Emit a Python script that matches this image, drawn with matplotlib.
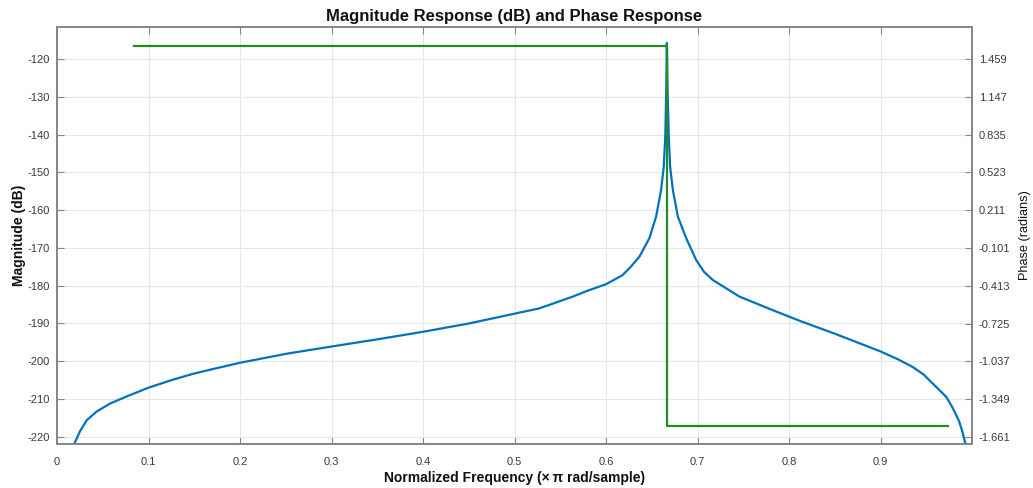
import numpy as np
import matplotlib.pyplot as plt

# magnitude response (normalized freq, dB)
mag_freq = [0.015, 0.0186, 0.025, 0.0325, 0.0434, 0.058, 0.0763, 0.1, 0.125,
            0.149, 0.175, 0.2, 0.251, 0.3, 0.35, 0.4, 0.45, 0.5, 0.527, 0.5635,
            0.58, 0.6, 0.618, 0.627, 0.6365, 0.6474, 0.6547, 0.6602, 0.6631,
            0.6648, 0.6658, 0.6665, 0.6672, 0.6685, 0.670, 0.673, 0.6785,
            0.6876, 0.6985, 0.707, 0.7168, 0.746, 0.7825, 0.8117, 0.85, 0.9,
            0.92, 0.935, 0.947, 0.957, 0.965, 0.972, 0.978, 0.982, 0.986,
            0.989, 0.993, 0.996]
mag_db = [-228, -222, -218.6, -215.6, -213.3, -211.2, -209.3, -207, -205,
          -203.3, -201.8, -200.4, -198, -196.1, -194.2, -192.2, -190, -187.4,
          -186, -182.9, -181.3, -179.6, -177.2, -175, -172.3, -167.4, -161.7,
          -154.6, -148.4, -140, -128, -115.7, -128, -140, -148.4, -154.6,
          -161.7, -167.4, -173.2, -176.3, -178.5, -182.9, -186.5, -189.3,
          -192.7, -197.4, -199.6, -201.5, -203.5, -205.9, -207.8, -209.5, -212,
          -213.9, -216, -218.3, -222, -228]

# phase response (radians)
phase_freq = [0.084, 0.6665, 0.6665, 0.974]
phase_rad = [1.5708, 1.5708, -1.5708, -1.5708]

xticks = [0, 0.1, 0.2, 0.3, 0.4, 0.5, 0.6, 0.7, 0.8, 0.9]
xtick_labels = ['0', '0.1', '0.2', '0.3', '0.4', '0.5', '0.6', '0.7', '0.8', '0.9']
mag_ticks = [-120, -130, -140, -150, -160, -170, -180, -190, -200, -210, -220]
phase_ticks = [1.459, 1.147, 0.835, 0.523, 0.211, -0.101, -0.413, -0.725,
               -1.037, -1.349, -1.661]

plt.rcParams['font.family'] = ['Liberation Sans', 'DejaVu Sans']
plt.rcParams['axes.unicode_minus'] = False

fig = plt.figure(figsize=(10.33, 4.88), dpi=100)
ax = fig.add_axes([0.0552, 0.0895, 0.8858, 0.8558])
ax2 = ax.twinx()

axis_col = '#858585'
text_col = '#3a3a3a'

ax.plot(mag_freq, mag_db, color='#0072BD', lw=1.6, zorder=3)
ax2.plot(phase_freq, phase_rad, color='#228B22', lw=1.6, zorder=3)

ax.set_xlim(0, 1.0)
ax.set_ylim(-222, -111.4)
ax2.set_ylim(-1.723, 1.727)

ax.set_xticks(xticks)
ax.set_xticklabels(xtick_labels)
ax.set_yticks(mag_ticks)
ax2.set_yticks(phase_ticks)
ax2.set_yticklabels(['%.3f' % v for v in phase_ticks])

ax.grid(True, color='#e6e6e6', lw=0.8)
ax.set_axisbelow(True)

ax.tick_params(axis='x', direction='in', top=True, length=5, width=0.8,
               colors=axis_col, labelcolor=text_col, labelsize=8, pad=9)
ax.tick_params(axis='y', direction='in', length=5, width=0.8,
               colors=axis_col, labelcolor=text_col, labelsize=8, pad=5)
ax2.tick_params(axis='y', direction='in', length=5, width=0.8,
                colors=axis_col, labelcolor=text_col, labelsize=8, pad=5)

for a in (ax, ax2):
    for s in a.spines.values():
        s.set_color(axis_col)
        s.set_linewidth(1.2)

ax.set_title('Magnitude Response (dB) and Phase Response', fontsize=12,
             fontweight='bold', color='#111111', pad=4)
ax.set_xlabel('Normalized Frequency (\u00d7\u2009\u03c0 rad/sample)', fontsize=10,
              fontweight='bold', color='#111111', labelpad=3)
ax.set_ylabel('Magnitude (dB)', fontsize=10, fontweight='bold',
              color='#111111', labelpad=1)
ax2.set_ylabel('Phase (radians)', fontsize=9.2, color='#111111', labelpad=6)

fig.savefig('out.png', dpi=100)
